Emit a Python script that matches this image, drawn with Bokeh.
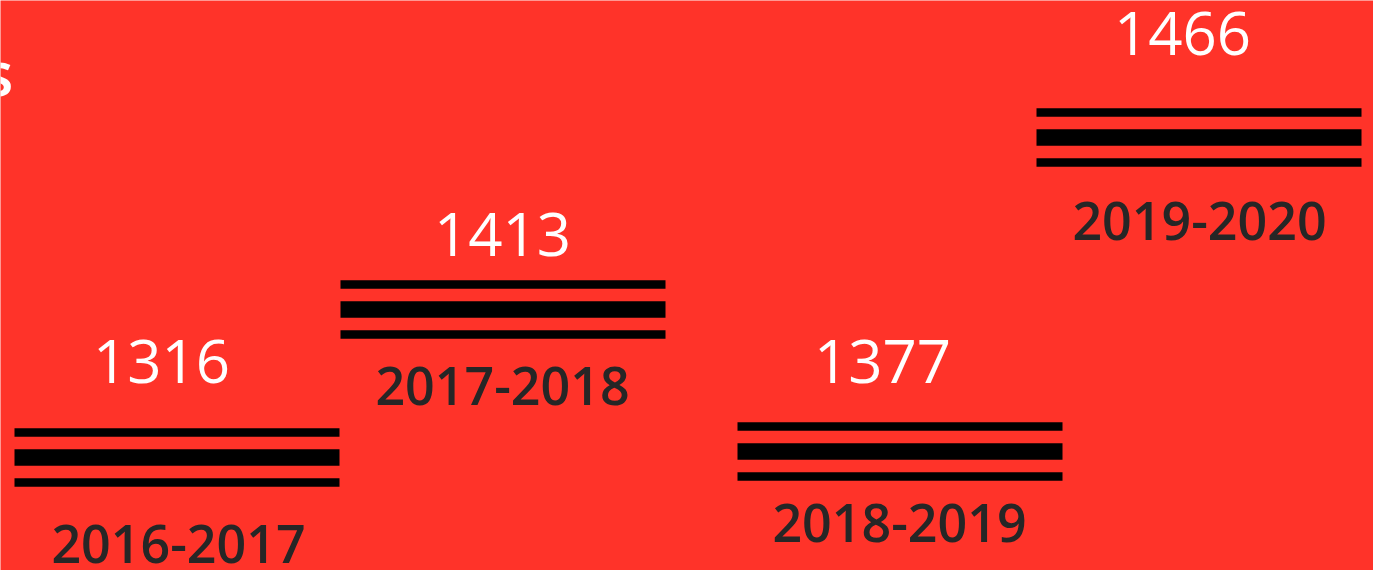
from bokeh.plotting import figure
from bokeh.models import ColumnDataSource, Range1d
from bokeh.core.properties import value
from bokeh.embed import file_html
from bokeh.resources import INLINE

# ---- data ----
categories = ["2016-2017", "2017-2018", "2018-2019", "2019-2020"]
values = [1316, 1413, 1377, 1466]

# ---- layout (infographic placement, screen units) ----
group_left = [14, 340, 737, 1036]
group_y = [457, 309, 451, 137]
bar_len = 325
value_x = [161, 502, 882, 1182]
value_base = [360.5, 234, 360.5, 32.5]
cat_x = [178, 502, 899, 1199]
cat_base = [543, 385, 522.5, 220.5]

BG = "#FF3329"
W, H = 1373, 570

p = figure(width=W, height=H, output_backend="svg", toolbar_location=None,
           x_range=Range1d(0, W), y_range=Range1d(H, 0),
           min_border=0, outline_line_color=None)
p.axis.visible = False
p.grid.visible = False
p.background_fill_color = BG
p.border_fill_color = BG

right = [l + bar_len for l in group_left]
for off, th in [(-25, 8.4), (0, 16.6), (25, 8.4)]:
    src = ColumnDataSource(dict(left=group_left, right=right,
                                y=[g + off for g in group_y], cat=categories, val=values))
    p.hbar(y="y", left="left", right="right", height=th, source=src,
           fill_color="black", line_color=None)

vsrc = ColumnDataSource(dict(x=value_x, y=value_base, txt=[str(v) for v in values]))
p.text(x="x", y="y", text="txt", source=vsrc, text_color="white",
       text_font=value("Open Sans"), text_font_size="60px",
       text_align="center", text_baseline="alphabetic")

csrc = ColumnDataSource(dict(x=cat_x, y=cat_base, txt=categories))
p.text(x="x", y="y", text="txt", source=csrc, text_color="#262626",
       text_font=value("Open Sans SemiBold"), text_font_size="52px",
       text_align="center", text_baseline="alphabetic")

# cut-off tail of a title at the top left
p.text(x=[13], y=[71], text=["s"], text_color="white",
       text_font=value("Open Sans SemiBold"), text_font_size="62px",
       text_align="right", text_baseline="alphabetic")

open("out.html", "w").write(file_html(p, INLINE))
